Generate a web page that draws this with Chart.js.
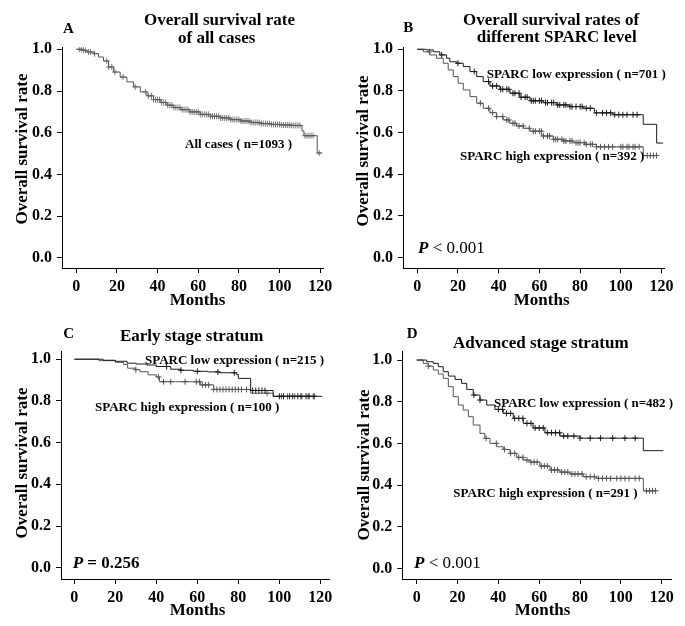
<!DOCTYPE html>
<html>
<head>
<meta charset="utf-8">
<script src="https://cdn.jsdelivr.net/npm/chart.js@4.4.1/dist/chart.umd.min.js"></script>
<style>
  body { margin: 0; background: #fff; }
  #wrap { position: relative; width: 685px; height: 626px; overflow: hidden; background: #fff; }
  canvas { position: absolute; }
  .t { position: absolute; font-family: "Liberation Serif", "Times New Roman", serif; font-weight: bold;
       line-height: 1; white-space: nowrap; color: #000; }
  .c { transform: translateX(-50%); }
  .v { transform: translate(-50%, -50%) rotate(-90deg); }
  .f17 { font-size: 17px; }
  .f15 { font-size: 15px; }
  .f13 { font-size: 13px; }
  .n { font-weight: normal; }
</style>
</head>
<body>
<div id="wrap">
  <canvas id="chA" width="340" height="312" style="left:0;top:0"></canvas>
  <canvas id="chB" width="345" height="312" style="left:340px;top:0"></canvas>
  <canvas id="chC" width="340" height="316" style="left:0;top:310px"></canvas>
  <canvas id="chD" width="345" height="316" style="left:340px;top:310px"></canvas>

  <!-- panel A -->
  <div class="t f15" style="left:63px;top:20.7px">A</div>
  <div class="t f17 c" style="left:219.5px;top:10.8px">Overall survival rate</div>
  <div class="t f17 c" style="left:216.7px;top:29.1px">of all cases</div>
  <div class="t f13" style="left:185px;top:137.4px">All cases ( n=1093 )</div>
  <div class="t f17 c" style="left:197.5px;top:290.8px">Months</div>
  <div class="t f17 v" style="left:20.5px;top:149px">Overall survival rate</div>

  <!-- panel B -->
  <div class="t f15" style="left:403.3px;top:19.7px">B</div>
  <div class="t f17 c" style="left:551px;top:10.8px">Overall survival rates of</div>
  <div class="t f17 c" style="left:556.7px;top:27.5px">different SPARC level</div>
  <div class="t f13" style="left:486.7px;top:66.7px">SPARC low expression ( n=701 )</div>
  <div class="t f13" style="left:460px;top:149.4px">SPARC high expression ( n=392 )</div>
  <div class="t f17" style="left:418px;top:239.1px"><i>P</i><span class="n"> &lt; 0.001</span></div>
  <div class="t f17 c" style="left:541.7px;top:290.8px">Months</div>
  <div class="t f17 v" style="left:361.5px;top:150.8px">Overall survival rate</div>

  <!-- panel C -->
  <div class="t f15" style="left:63.3px;top:325.7px">C</div>
  <div class="t f17 c" style="left:191.7px;top:326.5px">Early stage stratum</div>
  <div class="t f13" style="left:145px;top:352.7px">SPARC low expression ( n=215 )</div>
  <div class="t f13" style="left:95px;top:400.4px">SPARC high expression ( n=100 )</div>
  <div class="t f17" style="left:72.7px;top:553.8px"><i>P</i> = 0.256</div>
  <div class="t f17 c" style="left:197.5px;top:600.8px">Months</div>
  <div class="t f17 v" style="left:20.8px;top:463.3px">Overall survival rate</div>

  <!-- panel D -->
  <div class="t f15" style="left:406.7px;top:325.7px">D</div>
  <div class="t f17 c" style="left:540.8px;top:333.8px">Advanced stage stratum</div>
  <div class="t f13" style="left:494px;top:396.1px">SPARC low expression ( n=482 )</div>
  <div class="t f13" style="left:453.3px;top:486.1px">SPARC high expression ( n=291 )</div>
  <div class="t f17" style="left:414px;top:553.8px"><i>P</i><span class="n"> &lt; 0.001</span></div>
  <div class="t f17 c" style="left:542.5px;top:600.8px">Months</div>
  <div class="t f17 v" style="left:362.5px;top:465px">Overall survival rate</div>
</div>

<script>
/* ----------------------------
   tick labels
   ---------------------------- */
const MONTH_TICKS = [0, 20, 40, 60, 80, 100, 120];
const RATE_TICKS = [0, 0.2, 0.4, 0.6, 0.8, 1.0];

/* ----------------------------
   A - all cases (n=1093)
   ---------------------------- */
const A_TIME = [0, 3, 5.2, 8.5, 11, 13.4, 15.9, 18.4, 21.6, 24.9, 28.2, 31.5, 34.8, 38, 41.3, 44.6, 47.9, 51.2, 56, 61, 66, 71, 76, 81, 86, 91, 96, 101, 106, 111, 112, 118.5, 120.8];
const A_SURV = [1, 0.995, 0.987, 0.979, 0.963, 0.944, 0.915, 0.891, 0.867, 0.844, 0.82, 0.796, 0.777, 0.759, 0.745, 0.732, 0.721, 0.711, 0.70, 0.688, 0.679, 0.671, 0.663, 0.656, 0.649, 0.644, 0.640, 0.637, 0.635, 0.609, 0.586, 0.503, 0.503];
const A_CENS = [1.5, 2.5, 3.5, 4.5, 6, 7, 9, 15, 16, 17.5, 19, 23, 29, 34, 35.5, 37, 38, 39, 40, 41, 42, 43, 44, 45, 46, 47, 48, 49, 50, 51, 52, 53, 54, 55, 56, 57, 58, 59, 60, 61, 62, 63, 64, 65, 66, 67, 68, 69, 70, 71, 72, 73, 74, 75, 76, 77, 78, 79, 80, 81, 82, 83, 84, 85, 86, 87, 88, 89, 90, 91, 92, 93, 94, 95, 96, 97, 98, 99, 100, 101, 102, 103, 104, 105, 106, 107, 108, 109, 110, 112.5, 113.5, 114.5, 115.5, 116.5, 119.5];

/* ----------------------------
   B - SPARC low (n=701) / high (n=392)
   ---------------------------- */
const B_LOW_TIME = [0, 4.6, 7.9, 11.1, 14.4, 16, 19.4, 22.6, 25.9, 29.2, 32.4, 35.7, 40.6, 45.5, 50.4, 55.4, 61.9, 68.5, 75, 81.5, 87, 96.2, 111, 117.6, 120.8];
const B_LOW_SURV = [1, 0.997, 0.988, 0.973, 0.957, 0.94, 0.933, 0.917, 0.893, 0.869, 0.845, 0.824, 0.808, 0.789, 0.77, 0.753, 0.744, 0.733, 0.725, 0.717, 0.695, 0.686, 0.64, 0.55, 0.55];
const B_LOW_CENS = [12, 20, 28, 35, 37, 39, 41, 42, 44, 45, 47, 48, 50, 51, 53, 54, 56, 57, 58, 60, 61, 63, 64, 66, 67, 69, 70, 72, 73, 75, 76, 78, 80, 81, 83, 85, 88, 91, 93, 95, 97, 99, 101, 103, 106, 108];
const B_HIGH_TIME = [0, 3, 6.2, 9.5, 12.8, 15.2, 17.7, 20.1, 22.6, 25.9, 29.2, 32.4, 35.7, 39, 42.2, 45.5, 48.8, 52.1, 55.4, 61.1, 66.8, 71.7, 76.6, 82.4, 88, 111, 117.6];
const B_HIGH_SURV = [1, 0.988, 0.973, 0.957, 0.933, 0.901, 0.869, 0.837, 0.805, 0.773, 0.741, 0.717, 0.696, 0.677, 0.661, 0.645, 0.632, 0.621, 0.607, 0.584, 0.568, 0.56, 0.552, 0.544, 0.532, 0.49, 0.49];
const B_HIGH_CENS = [6, 31, 35, 37, 39, 42, 44, 45, 47, 48, 50, 52, 55, 57, 58, 60, 61, 62, 64, 65, 67, 68, 69, 71, 72, 73, 75, 76, 78, 79, 80, 82, 83, 85, 86, 88, 90, 92, 94, 96, 100, 101, 103, 104, 106, 107, 109, 113, 114.5, 116, 117.5];

/* ----------------------------
   C - early stage, low (n=215) / high (n=100)
   ---------------------------- */
const C_LOW_TIME = [0, 14, 20, 25.7, 30, 35.5, 40, 47, 52, 58, 65, 71, 79, 80, 86, 97, 120.8];
const C_LOW_SURV = [1, 0.995, 0.99, 0.981, 0.977, 0.972, 0.965, 0.952, 0.947, 0.942, 0.939, 0.935, 0.926, 0.908, 0.85, 0.822, 0.822];
const C_LOW_CENS = [45, 52, 60, 70, 78, 87, 88.5, 90, 91.5, 93, 100, 102, 105, 106.5, 109, 110.5, 113, 114.5, 117];
const C_HIGH_TIME = [0, 12, 20, 24, 26, 30, 32, 36, 40, 41.5, 61.5, 68, 86, 97, 117];
const C_HIGH_SURV = [1, 0.993, 0.985, 0.975, 0.957, 0.95, 0.94, 0.925, 0.915, 0.892, 0.877, 0.855, 0.837, 0.822, 0.822];
const C_HIGH_CENS = [30, 41, 43.5, 47, 54, 59.5, 61, 62.5, 64, 65.5, 68, 69.5, 71, 72.5, 74, 75.5, 77, 78.5, 80, 81.5, 84, 94, 101, 104, 107.5, 111, 114, 116.5];

/* ----------------------------
   D - advanced stage, low (n=482) / high (n=291)
   ---------------------------- */
const D_LOW_TIME = [0, 4.9, 8.1, 10.6, 13, 15.5, 18.8, 22, 24.5, 27.7, 31, 34.3, 38.3, 42.4, 47.3, 52.2, 57, 62.8, 70.2, 80, 111, 120.8];
const D_LOW_SURV = [1, 0.992, 0.984, 0.968, 0.944, 0.923, 0.907, 0.888, 0.859, 0.832, 0.808, 0.784, 0.763, 0.744, 0.72, 0.696, 0.674, 0.651, 0.635, 0.625, 0.565, 0.565];
const D_LOW_CENS = [28, 31, 40, 42, 44, 46, 48, 50, 52, 54, 56, 58, 60, 62, 64, 66, 68, 70, 72, 74, 77, 80, 85, 90, 96, 102, 107];
const D_HIGH_TIME = [0, 3.2, 5.7, 8.1, 10.6, 13, 15.5, 17.9, 20.4, 22.8, 25.3, 27.7, 31, 33.4, 35.9, 39.2, 42.4, 45.7, 49, 52.2, 55.5, 60.4, 65.3, 70.2, 75.1, 81.6, 88.1, 111, 117.5];
const D_HIGH_SURV = [1, 0.984, 0.971, 0.952, 0.933, 0.912, 0.872, 0.824, 0.784, 0.76, 0.728, 0.688, 0.648, 0.624, 0.6, 0.584, 0.571, 0.552, 0.533, 0.52, 0.51, 0.491, 0.472, 0.462, 0.453, 0.44, 0.432, 0.372, 0.372];
const D_HIGH_CENS = [5.7, 34, 39, 43, 46, 48, 50, 52, 54, 56, 57.5, 59, 61, 62.5, 64, 66, 67.5, 69, 71, 72.5, 74, 76, 77.5, 79, 81, 83, 85, 87, 89, 91, 93, 95, 98, 100, 102, 104, 107, 109, 112.5, 114, 115.5, 117];

/* ----------------------------
   helpers
   ---------------------------- */
const TICK_FONT = { family: '"Liberation Serif", "Times New Roman", serif', size: 16, weight: 'bold' };
const LOW_COLOR = '#1a1a1a';
const HIGH_COLOR = '#555';

// value of the step curve at time t (for the censor crosses)
const survAt = (times, surv, t) => {
    let v = surv[0];
    times.forEach((tt, i) => { if (tt <= t) v = surv[i]; });
    return v;
};

const curve = (times, surv, color) => ({
    data: times.map((t, i) => ({ x: t, y: surv[i] })),
    showLine: true,
    stepped: true,
    borderColor: color,
    borderWidth: 1,
    pointRadius: 0
});

const censor = (times, surv, cens, color) => ({
    data: cens.map(t => ({ x: t, y: survAt(times, surv, t) })),
    showLine: false,
    pointStyle: 'cross',
    pointRadius: 3,
    borderColor: color,
    borderWidth: 1
});

function panel(id, o) {
    new Chart(document.getElementById(id), {
        type: 'scatter',
        data: { datasets: o.datasets },
        options: {
            responsive: false,
            animation: false,
            events: [],
            layout: { padding: { left: 0, top: o.top, right: o.right, bottom: 0 } },
            plugins: { legend: { display: false }, tooltip: { enabled: false } },
            scales: {
                x: {
                    type: 'linear',
                    min: o.xMin,
                    max: o.xMax,
                    afterBuildTicks: s => { s.ticks = MONTH_TICKS.map(v => ({ value: v })); },
                    afterFit: s => { s.height = o.xH; },
                    ticks: { font: TICK_FONT, color: '#000', padding: 4, maxRotation: 0, autoSkip: false, callback: v => v },
                    grid: { drawOnChartArea: false, tickLength: 5, color: '#000' },
                    border: { color: '#000', width: 1 }
                },
                y: {
                    type: 'linear',
                    min: o.yMin,
                    max: o.yMax,
                    afterBuildTicks: s => { s.ticks = RATE_TICKS.map(v => ({ value: v })); },
                    afterFit: s => { s.width = o.yW; },
                    ticks: { font: TICK_FONT, color: '#000', padding: 5, autoSkip: false, callback: v => v.toFixed(1) },
                    grid: { drawOnChartArea: false, tickLength: 5, color: '#000' },
                    border: { color: '#000', width: 1 }
                }
            }
        }
    });
}

panel('chA', {
    top: 47, right: 16.7, yW: 62, xH: 44,
    xMin: -7, xMax: 121.5, yMin: -0.048, yMax: 1.011,
    datasets: [
        curve(A_TIME, A_SURV, '#555'),
        censor(A_TIME, A_SURV, A_CENS, '#777')
    ]
});

panel('chB', {
    top: 47, right: 20.4, yW: 63, xH: 43.7,
    xMin: -7, xMax: 121.5, yMin: -0.051, yMax: 1.011,
    datasets: [
        curve(B_LOW_TIME, B_LOW_SURV, LOW_COLOR),
        censor(B_LOW_TIME, B_LOW_SURV, B_LOW_CENS, LOW_COLOR),
        curve(B_HIGH_TIME, B_HIGH_SURV, HIGH_COLOR),
        censor(B_HIGH_TIME, B_HIGH_SURV, B_HIGH_CENS, HIGH_COLOR)
    ]
});

panel('chC', {
    top: 41.7, right: 10.4, yW: 61, xH: 47,
    xMin: -6.5, xMax: 124.5, yMin: -0.054, yMax: 1.036,
    datasets: [
        curve(C_LOW_TIME, C_LOW_SURV, LOW_COLOR),
        censor(C_LOW_TIME, C_LOW_SURV, C_LOW_CENS, LOW_COLOR),
        curve(C_HIGH_TIME, C_HIGH_SURV, HIGH_COLOR),
        censor(C_HIGH_TIME, C_HIGH_SURV, C_HIGH_CENS, HIGH_COLOR)
    ]
});

panel('chD', {
    top: 41.7, right: 13.3, yW: 62.3, xH: 47,
    xMin: -7.05, xMax: 124.9, yMin: -0.051, yMax: 1.04,
    datasets: [
        curve(D_LOW_TIME, D_LOW_SURV, LOW_COLOR),
        censor(D_LOW_TIME, D_LOW_SURV, D_LOW_CENS, LOW_COLOR),
        curve(D_HIGH_TIME, D_HIGH_SURV, HIGH_COLOR),
        censor(D_HIGH_TIME, D_HIGH_SURV, D_HIGH_CENS, HIGH_COLOR)
    ]
});
</script>
</body>
</html>
